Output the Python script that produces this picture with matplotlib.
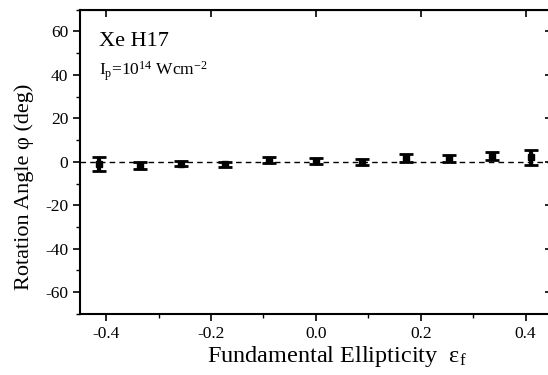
import matplotlib
matplotlib.use("Agg")
import matplotlib.pyplot as plt
from matplotlib.ticker import MultipleLocator

# fundamental ellipticity and measured rotation angle (deg)
ellipticity = [-0.414, -0.336, -0.257, -0.174, -0.09, 0.0, 0.087, 0.172, 0.254, 0.336, 0.41]
angle = [-1.0, -1.8, -0.8, -1.1, 0.9, 0.4, -0.2, 1.8, 1.6, 2.6, 2.0]
angle_err = [3.0, 1.5, 1.3, 1.2, 1.5, 1.3, 1.4, 1.7, 1.6, 1.7, 3.4]

xticks = [-0.4, -0.2, 0.0, 0.2, 0.4]
yticks = [-60, -40, -20, 0, 20, 40, 60]

plt.rcParams['font.family'] = ['Liberation Serif', 'DejaVu Serif']
plt.rcParams['mathtext.fontset'] = 'custom'
plt.rcParams['mathtext.rm'] = 'Liberation Serif'
plt.rcParams['mathtext.it'] = 'Liberation Serif:italic'

fig = plt.figure(figsize=(5.48, 3.75), dpi=100)
ax = fig.add_axes([0.146, 0.163, 0.861, 0.811])

ax.axhline(0, color='black', ls=(0, (4, 3)), lw=1.0, zorder=1)
ax.errorbar(ellipticity, angle, yerr=angle_err, fmt='s', color='black',
            ms=5, elinewidth=3, capsize=5, capthick=2, zorder=3)

ax.set_xlim(-0.45, 0.45)
ax.set_ylim(-70, 70)
ax.xaxis.set_minor_locator(MultipleLocator(0.1))
ax.yaxis.set_minor_locator(MultipleLocator(10))
ax.set_xticks(xticks)
ax.set_yticks(yticks)
ax.set_xticklabels(['%.1f' % v for v in xticks])
ax.set_yticklabels([str(v) for v in yticks])

ax.tick_params(which='major', direction='out', length=5, width=1.2, labelsize=12.5)
ax.tick_params(which='minor', direction='out', length=3, width=1.0)

# inward major ticks on top and right
sec_x = ax.secondary_xaxis('top')
sec_x.set_xticks(xticks)
sec_x.tick_params(direction='in', length=5, width=1.2, labeltop=False)
sec_y = ax.secondary_yaxis('right')
sec_y.set_yticks(yticks)
sec_y.tick_params(direction='in', length=5, width=1.2, labelright=False)

for s in ax.spines.values():
    s.set_linewidth(1.5)

ax.set_xlabel('Fundamental Ellipticity  ε$_\\mathrm{f}$', fontsize=17.5)
ax.set_ylabel('Rotation Angle φ (deg)', fontsize=16)
ax.xaxis.set_label_coords(0.545, -0.1)
ax.yaxis.set_label_coords(-0.098, 0.418)

ax.text(0.04, 0.88, 'Xe H17', transform=ax.transAxes, fontsize=16)
ax.text(0.04, 0.785, 'I$_\\mathrm{p}$=10$^{14}$ Wcm$^{-2}$', transform=ax.transAxes, fontsize=12.5)

fig.savefig('out.png', dpi=100)
